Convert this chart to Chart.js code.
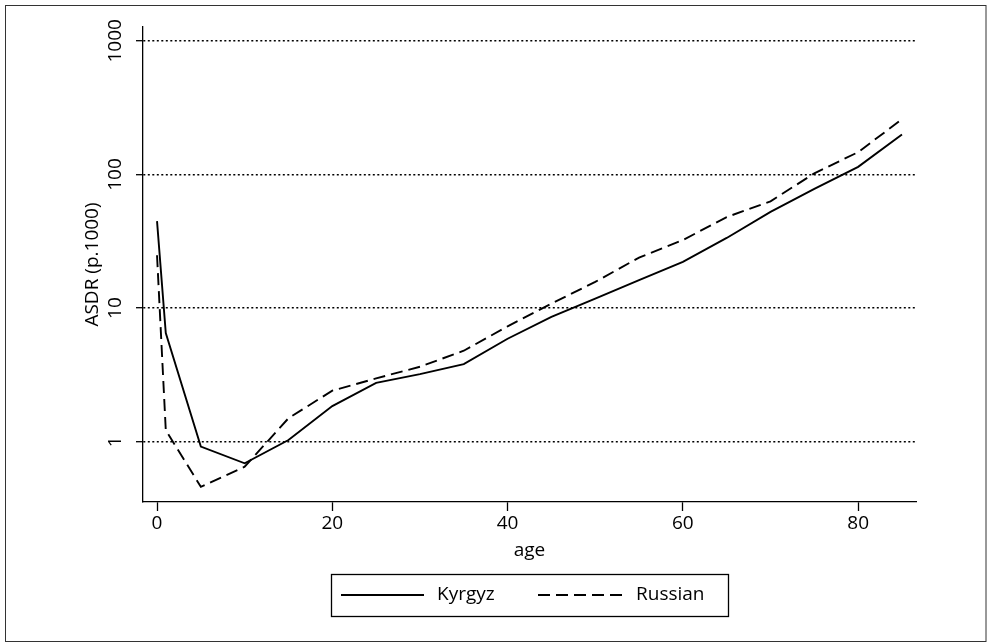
<!DOCTYPE html>
<html>
<head>
<meta charset="utf-8">
<script src="https://cdn.jsdelivr.net/npm/chart.js@4.4.1/dist/chart.umd.min.js"></script>
<style>
  html, body { margin: 0; padding: 0; background: #fff; }
  #wrap { width: 989px; height: 643px; }
</style>
</head>
<body>
<div id="wrap"><canvas id="asdr" width="989" height="643"></canvas></div>
<script>
/* Age-specific death rates, per 1000, log scale */
const ages    = [0, 1, 5, 10, 15, 20, 25, 30, 35, 40, 45, 50, 55, 60, 65, 70, 75, 80, 85];
const kyrgyz  = [44.8, 6.5, 0.92, 0.69, 1.03, 1.85, 2.76, 3.21, 3.81, 5.9, 8.6, 11.8, 16.2, 22.2, 33.5, 52.5, 78, 114, 199];
const russian = [24.9, 1.22, 0.46, 0.65, 1.5, 2.41, 2.98, 3.64, 4.8, 7.3, 10.8, 15.7, 23.9, 32.3, 48, 63, 102, 147, 259];

const xTicks = [0, 20, 40, 60, 80];
const yTicks = [1, 10, 100, 1000];
const seriesNames = ['Kyrgyz', 'Russian'];

const FONT = "'Open Sans', 'Noto Sans', sans-serif";
const INK = '#000';

const toPoints = vals => ages.map((a, i) => ({ x: a, y: vals[i] }));

// outer frame + white page
const framePlugin = {
  id: 'frame',
  beforeDraw(chart) {
    const { ctx, width, height } = chart;
    ctx.save();
    ctx.fillStyle = '#fff';
    ctx.fillRect(0, 0, width, height);
    ctx.strokeStyle = '#333';
    ctx.lineWidth = 1;
    ctx.strokeRect(5.5, 5.5, 980.5, 636);
    ctx.restore();
  }
};

// vertical y tick labels (Stata style)
const yLabelPlugin = {
  id: 'yLabels',
  afterDraw(chart) {
    const { ctx } = chart;
    const y = chart.scales.y;
    ctx.save();
    ctx.fillStyle = INK;
    ctx.font = `19px ${FONT}`;
    ctx.textAlign = 'center';
    ctx.textBaseline = 'middle';
    y.ticks.forEach(t => {
      const py = y.getPixelForValue(t.value);
      ctx.save();
      ctx.translate(116, py);
      ctx.rotate(-Math.PI / 2);
      ctx.fillText(String(t.value), 0, 0);
      ctx.restore();
    });
    ctx.restore();
  }
};

// boxed legend under the plot
const legendPlugin = {
  id: 'boxLegend',
  afterDraw(chart) {
    const { ctx } = chart;
    const box = { x: 331, y: 574, w: 397, h: 42 };
    const cy = box.y + box.h / 2;
    ctx.save();
    ctx.strokeStyle = INK;
    ctx.lineWidth = 1.3;
    ctx.strokeRect(box.x + 0.5, box.y + 0.5, box.w, box.h);

    const items = [
      { x0: 341, x1: 424, tx: 437 },
      { x0: 538, x1: 623, tx: 636 }
    ];
    chart.data.datasets.forEach((ds, i) => {
      const it = items[i];
      ctx.beginPath();
      ctx.setLineDash(ds.borderDash || []);
      ctx.lineWidth = ds.borderWidth;
      ctx.moveTo(it.x0, cy);
      ctx.lineTo(it.x1, cy);
      ctx.stroke();
      ctx.setLineDash([]);
      ctx.fillStyle = INK;
      ctx.font = `19px ${FONT}`;
      ctx.textAlign = 'left';
      ctx.textBaseline = 'middle';
      ctx.fillText(ds.label, it.tx, cy);
    });
    ctx.restore();
  }
};

new Chart(document.getElementById('asdr'), {
  type: 'line',
  data: {
    datasets: [
      { label: seriesNames[0], data: toPoints(kyrgyz), borderColor: INK, borderWidth: 1.9, pointRadius: 0, tension: 0, fill: false },
      { label: seriesNames[1], data: toPoints(russian), borderColor: INK, borderWidth: 1.9, borderDash: [12, 6], pointRadius: 0, tension: 0, fill: false }
    ]
  },
  options: {
    responsive: false,
    animation: false,
    layout: { padding: { left: 0, top: 27, right: 73, bottom: 81 } },
    plugins: {
      legend: { display: false },
      tooltip: { enabled: false }
    },
    scales: {
      x: {
        type: 'linear',
        min: -1.6,
        max: 86.6,
        afterBuildTicks: s => { s.ticks = xTicks.map(v => ({ value: v })); },
        afterFit: s => { s.height = 60; },
        border: { display: true, color: INK, width: 1.3 },
        grid: { drawOnChartArea: false, drawTicks: true, tickLength: 9, tickColor: INK, tickWidth: 1.3 },
        ticks: { color: INK, font: { family: FONT, size: 19 }, padding: 1, maxRotation: 0, autoSkip: false },
        title: { display: true, text: 'age', color: INK, font: { family: FONT, size: 19 }, padding: { top: 0, bottom: 0.5 } }
      },
      y: {
        type: 'logarithmic',
        min: 0.354,
        max: 1270,
        afterBuildTicks: s => { s.ticks = yTicks.map(v => ({ value: v })); },
        afterFit: s => { s.width = 143; },
        border: { display: true, color: INK, width: 1.3, dash: [2, 2.5] },
        grid: { color: INK, lineWidth: 1.4, tickLength: 7, tickColor: INK, tickWidth: 1.3, tickBorderDash: [] },
        ticks: { display: false },
        title: { display: true, text: 'ASDR (p.1000)', color: INK, font: { family: FONT, size: 19 }, padding: { top: 81, bottom: 0 } }
      }
    }
  },
  plugins: [framePlugin, yLabelPlugin, legendPlugin]
});
</script>
</body>
</html>
